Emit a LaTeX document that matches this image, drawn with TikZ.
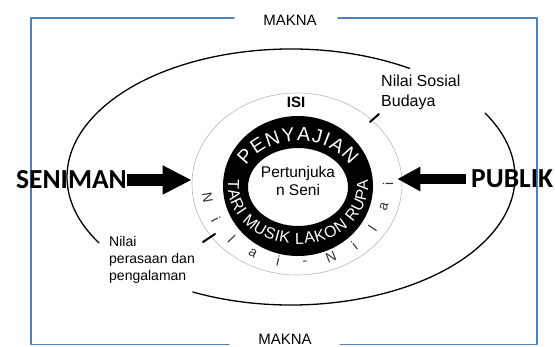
\documentclass[tikz,border=0pt]{standalone}
\usepackage{fontspec}
\setmainfont{Liberation Sans}
\newfontfamily\headfont{Carlito}
\usetikzlibrary{arrows.meta}
\usetikzlibrary{positioning}
\usetikzlibrary{shapes.geometric}
\usetikzlibrary{decorations.text}
\definecolor{frameblue}{RGB}{79,129,189}
\definecolor{nilaigray}{RGB}{50,50,50}

\tikzset{
  frameline/.style={frameblue, line width=1.4pt},
  bigoval/.style={black, line width=1.3pt},
  textlabel/.style={inner sep=0pt, font=\fontsize{14}{17}\selectfont},
  actor/.style={inner sep=0pt, font=\headfont\bfseries\fontsize{27.5}{28}\selectfont},
  nilaichar/.style={inner sep=0pt, text=nilaigray, font=\fontsize{14}{14}\selectfont},
  marktick/.style={black, line width=2pt},
}

\begin{document}
\begin{tikzpicture}[line cap=round,line join=round,x=1pt,y=1pt]
\useasboundingbox (0,0) rectangle (555,347);
% frame
\draw [frameline] (234,329) -- (31,329) -- (31,2.5) -- (229,2.5);
\draw [frameline] (338,329) -- (537,329) -- (537,2.5) -- (340,2.5);
\node [textlabel, font=\fontsize{15}{15}\selectfont] (maknatop) at (290,327) {MAKNA};
\node [textlabel, font=\fontsize{15}{15}\selectfont] (maknabot) at (285,7.5) {MAKNA};
% outer oval, open at the two labels
\draw [bigoval] (291,170) ++(58:224 and 128) arc [start angle=58, end angle=211, x radius=224, y radius=128];
\draw [bigoval] (291,170) ++(244:224 and 128) arc [start angle=244, end angle=390, x radius=224, y radius=128];
% isi
\node [ellipse, draw=gray!55, line width=0.6pt, minimum width=210, minimum height=182, inner sep=0pt] (isi) at (297,163) {};
\node [textlabel, font=\bfseries\fontsize{15}{15}\selectfont] (isilabel) at (296,245) {ISI};
\foreach \ch [count=\i from 0] in {N,i,l,a,i,-,N,i,l,a,i} {
  \pgfmathsetmacro\ang{190+17*\i}
  \node [nilaichar, rotate=\ang+90] (nilai\i) at ([shift={(\ang:91 and 79)}]297,163) {\ch};
}
% penyajian ring
\fill [black, even odd rule] (298,161) ellipse [x radius=75, y radius=70] (298,160) ellipse [x radius=50, y radius=39];
\path [decorate, decoration={text along path, text align=fit to path, text color=white,
  text={|\fontsize{19.5}{20}\selectfont|PENYAJIAN}}]
  (298,161) ++(153:58 and 45) arc [start angle=153, end angle=27, x radius=58, y radius=45];
\path [decorate, decoration={text along path, text align=fit to path, text color=white,
  text={|\fontsize{16}{16}\selectfont|TARI MUSIK LAKON RUPA}}]
  (298,161) ++(174:70 and 58) arc [start angle=174, end angle=366, x radius=70, y radius=58];
\node [textlabel, align=center, font=\fontsize{15.5}{18}\selectfont] (pertunjukan) at (298,166) {Pertunjuka\\n Seni};
% nilai labels
\node [textlabel, align=left, anchor=west, font=\fontsize{16}{20}\selectfont] (sosial) at (381,255) {Nilai Sosial\\Budaya};
\node [textlabel, align=left, anchor=west, font=\fontsize{14}{17}\selectfont] (perasaan) at (109,87) {Nilai\\perasaan dan\\pengalaman};
\draw [marktick] (370,225) -- (379,233);
\draw [marktick] (203,105) -- (215,113);
% actors
\node [actor, anchor=east] (seniman) at (127,167) {SENIMAN};
\node [actor, anchor=west] (publik) at (471,168) {PUBLIK};
\draw [line width=12pt, line cap=butt, -{Triangle[length=29pt 0, width=27pt 0]}] (seniman.east) -- (seniman.east -| isi.west);
\draw [line width=10pt, line cap=butt, -{Triangle[length=23pt 0, width=23pt 0]}] ([xshift=-5pt]publik.west) -- ([xshift=-5pt]publik.west -| isi.east);
\end{tikzpicture}
\end{document}
